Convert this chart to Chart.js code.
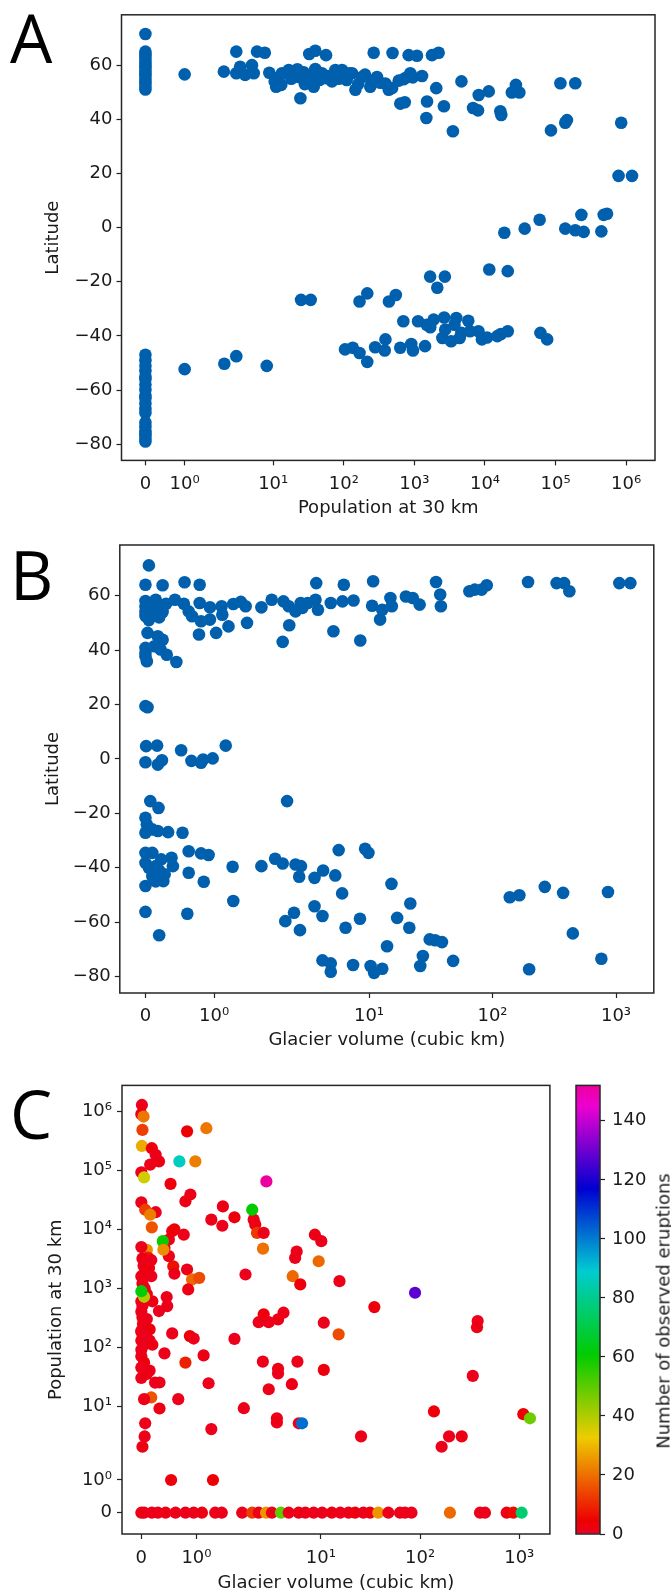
<!DOCTYPE html>
<html>
<head>
<meta charset="utf-8">
<script src="https://cdn.jsdelivr.net/npm/chart.js@4.4.1/dist/chart.umd.min.js"></script>
<style>
  html, body { margin: 0; padding: 0; background: #fff; }
  body { width: 671px; height: 1591px; position: relative; overflow: hidden; }
  canvas { position: absolute; }
  .panel { position: absolute; font-family: "Open Sans", sans-serif; font-size: 67px; line-height: 1; color: #000; }
  #cbTitle { position: absolute; left: 663px; top: 1311px; white-space: nowrap;
    font-family: "DejaVu Sans", sans-serif; font-size: 18px; color: #1a1a1a;
    transform: translate(-50%, -50%) rotate(-90deg); }
</style>
</head>
<body>
<canvas id="chartA" width="671" height="530" style="left:0;top:0"></canvas>
<canvas id="chartB" width="671" height="530" style="left:0;top:530px"></canvas>
<canvas id="chartC" width="560" height="545" style="left:0;top:1060px"></canvas>
<canvas id="chartBar" width="140" height="545" style="left:560px;top:1060px"></canvas>
<div class="panel" style="left:10px;top:4px">A</div>
<div class="panel" style="left:10px;top:541px">B</div>
<div class="panel" style="left:10px;top:1080px">C</div>
<div id="cbTitle">Number of observed eruptions</div>
<script>
// ---- data ----
// panel A: population within 30 km vs latitude
const popA = [
  0, 0, 0, 0, 0, 0, 0, 0, 0, 0, 0, 0, 0, 0, 0, 0,
  0, 0, 0, 0, 0, 0, 0, 0, 0, 0, 0, 0, 0, 0, 0, 0, 0, 0, 0, 0,
  1, 2, 3, 3, 3.4, 4, 5, 5.3, 5.9, 7.6, 8.8, 13, 13.3, 16.6, 19.6, 24.3, 32.4, 39.5, 56, 23,
  27, 31.8, 37.5, 39.5, 49, 54.8, 68, 76, 94.5, 131, 146, 181, 237, 265, 295, 388, 433, 490, 600, 631,
  830, 1088, 1775, 2205, 743, 875, 1282, 482, 730, 1510, 1476, 2040, 2620, 3510, 4640, 8150, 6770, 7970, 11300, 16500,
  17000, 27400, 24000, 30700, 117000, 190000, 86000, 137000, 145000, 850000, 780000, 1210000,
  18800, 36500, 59400, 137000, 190000, 250000, 232000, 445000, 480000, 535000,
  1, 2.03, 3, 8.1, 24.8, 34, 167, 215, 436, 546, 1670, 2700, 2110, 11500, 21000,
  104, 134, 167, 215, 278, 389, 380, 630, 903, 955, 1414,
  697, 1127, 1498, 1872, 1677, 2640, 2730, 2490, 3310, 3700, 3920, 4630, 4380, 5800, 6130, 8080, 9040, 10690, 14950, 21000, 16800, 61000, 76000,
  10.5, 11, 18, 22, 28, 33, 45, 60, 85, 110, 120, 160, 200, 250, 330, 12, 700, 950
];
const latA = [
  71.5, 65, 64, 63, 62, 61, 60, 59, 58, 57, 56, 55, 54, 53, 52, 51,
  -47, -49, -51, -53, -55, -56, -58, -60, -62, -63, -65, -67, -68.5, -72, -73.5, -75, -76, -77, -78, -79,
  56.6, 57.6, 65, 57, 59.4, 56.4, 60, 57, 65, 64.6, 57.2, 52.7, 57, 58.2, 56.3, 47.8, 64.1, 65.3, 63.7, 55.6,
  57.4, 53.8, 52, 58.6, 57, 55.2, 54, 58.2, 58.2, 57, 50.9, 55.6, 52, 64.6, 55.6, 53.2, 50.9, 64.5, 54.3, 45.8,
  63.7, 63.5, 63.7, 64.6, 55.2, 57, 56, 51.5, 46.3, 46.6, 40.5, 51.5, 44.8, 35.6, 54, 49, 44.2, 43.3, 50.3, 43,
  41.6, 52.7, 49.9, 49.9, 53.3, 53.3, 35.9, 38.7, 39.7, 38.7, 19.1, 19.1,
  -1.9, -0.4, 2.9, -0.4, -1, -1.6, 4.7, -1.4, 4.7, 5.1,
  -52.3, -50.3, -47.5, -51.1, -26.7, -26.7, -27.3, -24.3, -27.3, -24.9, -18.1, -18.1, -22.2, -15.5, -16.1,
  -45, -44.4, -46.3, -49.6, -44.2, -41.3, -45.4, -44.4, -43, -45.4, -43.8,
  -34.6, -34.6, -35.9, -34, -36.8, -33.2, -37.7, -40.8, -42, -35.9, -33.4, -38.9, -40.8, -34.4, -38.3, -38.3, -41.3, -40.6, -40.1, -38.3, -39.3, -38.9, -41.3,
  54, 52, 55, 58.5, 53, 56, 54.5, 56, 55, 54.5, 57, 53, 56.5, 54, 53.5, 55.5, 54.8, 55.5
];

// panel B: glacier volume vs latitude
const glacB = [
  0.05, 0, 0.25, 0.57, 0.79,
  0, 0, 0, 0, 0.05, 0.1, 0.1, 0.15, 0.2, 0.25, 0.3, 0.05, 0.2,
  0.43, 0.56, 0.63, 0.68, 0.79, 0.81, 0.94, 0.94, 0.78, 1.03, 1.11, 1.12, 1.21, 1.28, 1.39, 1.46, 1.48, 1.69, 1.84,
  2.03, 2.24, 2.26, 2.54, 2.89, 3.19, 3.74, 3.86, 3.69, 2.8, 2.0,
  4.9, 5.15, 6.25, 6.1, 7.5, 8.5,
  10.8, 10.6, 12.3, 12.8, 14.9, 15.3, 19.9, 22.6, 25.7,
  34.9, 37.7, 38.2, 65, 71.8, 81.6, 89.8, 194, 330, 380, 419, 1063, 1307,
  0.03, 0, 0, 0.02, 0.18, 0.25, 0.13, 0.22, 0.31, 0.45, 0,
  0, 0.03,
  0, 0.01, 0.17, 0.18, 0.24, 0.52, 0.67, 0.81, 0.84, 0.98, 1.17,
  0.07, 0.19, 2.17, 0, 0.02, 0, 0.18, 0.33, 0.54, 0.1,
  0, 0.1, 0, 0.15, 0.23, 0.38, 0.4, 0.28, 0.26, 0, 0.1, 0.63, 0.63, 0.81, 0.92, 0.85, 0.05, 0.15, 0.2,
  1.27, 1.69, 1.89, 2.0, 2.54, 2.81, 2.72, 3.62, 4.25, 5.33, 5.68, 6.06, 9.3, 9.9, 15.2, 1.28,
  0, 0.61, 0.2,
  2.1, 2.47, 2.76, 3.62, 4.2, 6.46, 8.45, 21.6, 16.9, 21.2, 14, 31, 34.3, 39, 27.3, 26, 48,
  4.2, 4.9, 4.9, 7.43, 10.3, 12.8, 11,
  138, 165, 265, 373, 861, 447, 198, 761
];
const latB = [
  71.1, 64, 63.8, 64.9, 64,
  58, 56, 54, 52.5, 57, 55, 53, 58.5, 56, 54, 57, 51, 52,
  58.5, 57, 54.2, 52.4, 57.3, 50.6, 55.7, 51.2, 45.7, 46.3, 56.1, 53, 48.7, 56.9, 57.7, 56.1, 50, 55.7, 58.5,
  57.9, 56.1, 49.1, 54.2, 55.5, 57.3, 64.6, 54.8, 58.5, 57.3, 43,
  57.3, 46.9, 64, 57.9, 58.2, 43.5,
  65.3, 56.3, 51.2, 54.8, 59.1, 56.1, 59.7, 59.1, 56.7,
  65, 60.4, 56.1, 61.6, 62.2, 62.2, 63.8, 65, 64.6, 64.6, 61.6, 64.6, 64.6,
  46.3, 40.8, 39, 35.9, 45.1, 43.8, 41.4, 40.2, 38.3, 35.6, 37.7,
  19.4, 19,
  -1.2, 4.7, 4.9, -2.1, -0.5, 3.2, -0.7, -1.4, -0.2, 0.2, 4.9,
  -15.5, -18, -15.5, -21.6, -24.1, -27.1, -26.5, -26.9, -27.1, -25.9,
  -34.5, -34.5, -38.2, -39.4, -36.9, -36.3, -39.4, -42.4, -44.9, -46.7, -43.1, -33.9, -41.8, -34.7, -35.3, -45.1, -40, -45, -41,
  -39.6, -39.4, -36.7, -38.4, -38.8, -39.4, -43.3, -43.7, -41, -42.8, -33.5, -49.4, -33, -34.5, -45.9, -52.2,
  -56.2, -56.9, -64.8,
  -59.6, -56.5, -62.9, -54.1, -57.7, -62, -58.7, -53.1, -58.4, -62, -68.8, -66.3, -66.6, -67.3, -72.4, -76.1, -74.2,
  -74, -75.1, -78.2, -75.7, -76.1, -77.1, -78.6,
  -50.8, -50.1, -47, -49.2, -48.9, -64.1, -77.3, -73.4
];

// panel C: glacier volume vs population, coloured by number of eruptions
const glacC = [
  0.01, 0, 0.04, 0.02, 0.83, 1.18, 0.01, 0.19, 0.26, 0.32, 0.16, 0, 0.05, 0.69, 0.98, 0.53, 2.82, 0.89, 0.8, 0,
  0.07, 0.26, 0.16, 0.19, 1.48, 1.27, 1.47, 1.69, 2.1, 2.18, 2.03, 2.27, 2.65, 2.61, 0.56, 0.6, 0.77, 0.5, 0.42, 0.5,
  0.39, 0.4, 0.1, 0.12, 0, 0.02, 0.04, 0.08, 0.14, 0.18, 0.18, 0, 0.02, 0.58, 0.83, 0.6, 0.92, 1.05, 0.85, 1.89,
  5.2, 6.2, 5.5, 5.7, 8.7, 10.1, 9.5, 15.4, 10.7, 2.65, 4.2, 2.36, 2.98, 3.7, 0, 0.02, 0, 0.32, 0.47, 0.46,
  0, 0.03, 0, 0.05, 0.1, 0.15, 0.02, 0.1, 0.2, 0.06, 0, 0.05, 0.15, 0.2, 0, 0, 0.05, 0, 0.15, 0,
  0.1, 0.25, 0.56, 0.88, 0.95, 0.42, 0.8, 1.13, 1.22, 1.69, 0.33, 0.18, 0.05, 0.33, 0.67, 0.07, 0.06, 0.02, 1.27, 0.54,
  1.3, 1.86, 2.6, 3.7, 3.7, 2.98, 5.1, 5.8, 10.7, 3.6, 3.6, 5.99, 6.46, 15.1, 89, 34.6, 381, 375, 340, 138,
  1099, 1283, 25.4, 196, 263, 165, 0.05, 0,
  0, 0.05, 0.19, 0.3, 0.44, 0.62, 0.8, 0.95, 1.1, 1.34, 1.46, 1.83, 2.03, 2.36, 2.8, 3.21, 3.96, 4.74, 5.97, 6.97,
  8.45, 10.3, 12.9, 15.7, 19, 22.1, 26.8, 31.3, 37.9, 47.9, 62.7, 70.4, 82, 200, 402, 451, 747, 871, 1057
];
const popC = [
  1290000, 900000, 820000, 487000, 460000, 520000, 260000, 238000, 184000, 142000, 125000, 93000, 76000, 142000, 142000, 59000, 65000, 39000, 29900, 28700,
  21500, 19500, 17700, 10800, 24500, 14600, 11500, 16000, 14600, 12000, 21500, 8700, 8700, 4700, 9300, 10000, 8100, 6700, 4800, 3500,
  6300, 4500, 4500, 3300, 5000, 3200, 2400, 2700, 2200, 3000, 1600, 1600, 1200, 2360, 2080, 1760, 1410, 1500, 953, 1710,
  1600, 1160, 3270, 4200, 8100, 6300, 2870, 1320, 260, 360, 384, 265, 265, 296, 602, 323, 190, 410, 497, 710,
  400, 250, 130, 110, 300, 200, 500, 800, 600, 1000, 180, 150, 130, 110, 90, 70, 55, 45, 40, 30,
  35, 25, 171, 154, 140, 78.5, 54.7, 72.5, 24.4, 138, 25.1, 14, 13.1, 9.1, 13.1, 5.1, 3.05, 2.04, 4.07, 1,
  1, 9.2, 56.9, 42.9, 35.9, 19.3, 23.5, 56.9, 41.1, 5.27, 6.2, 5.1, 5.1, 165, 838, 478, 277, 218, 32.5, 8.1,
  7.3, 6.2, 3.06, 3.06, 3.06, 2.04, 716, 890,
  0, 0, 0, 0, 0, 0, 0, 0, 0, 0, 0, 0, 0, 0, 0, 0, 0, 0, 0, 0,
  0, 0, 0, 0, 0, 0, 0, 0, 0, 0, 0, 0, 0, 0, 0, 0, 0, 0, 0
];
const erupC = [
  1, 2, 21, 13, 4, 21, 28, 3, 1, 2, 1, 1, 36, 87, 22, 3, 152, 1, 2, 1,
  13, 1, 22, 16, 2, 1, 1, 3, 1, 2, 61, 12, 1, 20, 1, 4, 1, 2, 1, 1,
  60, 24, 24, 8, 1, 2, 1, 1, 3, 1, 1, 2, 1, 7, 1, 1, 19, 15, 2, 1,
  19, 3, 1, 1, 2, 1, 19, 1, 1, 3, 1, 1, 1, 2, 1, 1, 2, 1, 1, 1,
  1, 2, 1, 1, 1, 3, 1, 1, 2, 1, 1, 1, 1, 2, 1, 1, 3, 1, 1, 1,
  2, 1, 1, 4, 1, 1, 9, 2, 1, 1, 1, 16, 1, 2, 1, 1, 1, 2, 1, 3,
  4, 1, 1, 2, 1, 1, 2, 1, 3, 1, 2, 1, 102, 15, 128, 3, 1, 2, 1, 3,
  4, 48, 1, 1, 2, 1, 40, 62,
  1, 2, 1, 1, 2, 1, 1, 1, 2, 1, 1, 1, 13, 1, 25, 1, 50, 1, 2, 1,
  1, 1, 2, 1, 1, 3, 1, 2, 25, 1, 1, 1, 1, 19, 1, 1, 2, 6, 76
];

const latTicks = [-80, -60, -40, -20, 0, 20, 40, 60];
const popTicks = [0, 1, 10, 100, 1000, 10000, 100000, 1000000];
const glacTicks = [0, 1, 10, 100, 1000];
const erupTicks = [0, 20, 40, 60, 80, 100, 120, 140];

// ---- symlog scale (linthresh 2, linscale 1, base 10) ----
const LINTHRESH = 2;
const LINSCALE = 1 / (1 - 1 / 10);
function symlog(v) {
  const a = Math.abs(v);
  const t = a <= LINTHRESH ? a / LINTHRESH * LINSCALE : LINSCALE + Math.log10(a / LINTHRESH);
  return v < 0 ? -t : t;
}
function symexp(t) {
  const a = Math.abs(t);
  const v = a <= LINSCALE ? a / LINSCALE * LINTHRESH : LINTHRESH * Math.pow(10, a - LINSCALE);
  return t < 0 ? -v : v;
}

class SymlogScale extends Chart.Scale {
  determineDataLimits() {
    const {min, max} = this.getMinMax(true);
    this.min = this.options.min ?? min;
    this.max = this.options.max ?? max;
  }
  buildTicks() {
    return [];
  }
  configure() {
    super.configure();
    this._t0 = symlog(this.min);
    this._t1 = symlog(this.max);
  }
  getPixelForValue(value) {
    if (value === null || value === undefined || isNaN(value)) return NaN;
    return this.getPixelForDecimal((symlog(value) - this._t0) / (this._t1 - this._t0));
  }
  getValueForPixel(pixel) {
    return symexp(this._t0 + this.getDecimalForPixel(pixel) * (this._t1 - this._t0));
  }
  getLabelForValue(value) {
    return String(value);
  }
}
SymlogScale.id = 'symlog';
SymlogScale.defaults = {};
Chart.register(SymlogScale);

// ---- colours ----
const BLUE = '#0060ad';
const SHADE = [0.93, 0.8, 0.82];   // the reference rainbow is a bit muted
const RAINBOW = [
  [0, [1, 0, 0.16]], [0.03, [1, 0, 0]], [0.215, [1, 1, 0]], [0.4, [0, 1, 0]],
  [0.586, [0, 1, 1]], [0.77, [0, 0, 1]], [0.954, [1, 0, 1]], [1, [1, 0, 0.75]]
];
function rgb(c) {
  return 'rgb(' + c.map((v, k) => Math.round(v * 255 * SHADE[k])).join(',') + ')';
}
function rainbow(t) {
  t = Math.min(1, Math.max(0, t));
  for (let i = 1; i < RAINBOW.length; i++) {
    const [t1, c1] = RAINBOW[i];
    if (t <= t1) {
      const [t0, c0] = RAINBOW[i - 1];
      const f = (t - t0) / (t1 - t0);
      return rgb(c0.map((v, k) => v + (c1[k] - v) * f));
    }
  }
}
const erupMax = Math.max(...erupC);

// ---- shared bits ----
const FONT = {family: 'DejaVu Sans', size: 18};
const INK = '#1a1a1a';
const SUP = '⁰¹²³⁴⁵⁶⁷⁸⁹';
const powLabel = v => v === 0 ? '0' : '10' + SUP[Math.round(Math.log10(v))];
const numLabel = v => v < 0 ? '\u2212' + Math.abs(v) : String(v);
const tickGrid = {display: true, drawOnChartArea: false, drawTicks: true, tickLength: 5, tickWidth: 1.2, tickColor: '#222'};

const framePlugin = {
  id: 'frame',
  afterDraw(chart) {
    const {ctx, chartArea: a} = chart;
    ctx.save();
    ctx.strokeStyle = '#262626';
    ctx.lineWidth = 1.5;
    ctx.strokeRect(a.left, a.top, a.right - a.left, a.bottom - a.top);
    ctx.restore();
  }
};

function axis(opts) {
  return {
    type: opts.type,
    position: opts.position,
    min: opts.min,
    max: opts.max,
    border: {display: false},
    grid: tickGrid,
    afterBuildTicks: s => { s.ticks = opts.ticks.map(v => ({value: v})); },
    ticks: {font: FONT, color: INK, padding: opts.pad, autoSkip: false, maxRotation: 0, callback: opts.fmt},
    title: opts.title ? {display: true, text: opts.title, font: FONT, color: INK, padding: opts.titlePad} : {display: false},
    afterFit: s => {
      if (opts.width !== undefined) s.width = opts.width;
      if (opts.height !== undefined) s.height = opts.height;
    }
  };
}

function baseOptions(padding, scales) {
  return {
    responsive: false,
    animation: false,
    events: [],
    layout: {padding},
    plugins: {legend: {display: false}, tooltip: {enabled: false}},
    scales
  };
}

function points(xs, ys) {
  return xs.map((x, i) => ({x, y: ys[i]}));
}

// ---- A ----
new Chart(document.getElementById('chartA'), {
  type: 'scatter',
  data: {datasets: [{data: points(popA, latA), backgroundColor: BLUE, pointRadius: 6.3, pointHoverRadius: 6.3, borderWidth: 0}]},
  options: baseOptions({top: 11.4, right: 16, left: 0, bottom: 0}, {
    x: axis({type: 'symlog', position: 'bottom', min: -0.61, max: 2.56e6, ticks: popTicks, fmt: powLabel, pad: 8,
      title: 'Population at 30 km', titlePad: {bottom: 11}, height: 69.6}),
    y: axis({type: 'linear', position: 'left', min: -86, max: 78.6, ticks: latTicks, fmt: numLabel, pad: 4,
      title: 'Latitude', titlePad: {top: 43}, width: 121.5})
  }),
  plugins: [framePlugin]
});

// ---- B ----
new Chart(document.getElementById('chartB'), {
  type: 'scatter',
  data: {datasets: [{data: points(glacB, latB), backgroundColor: BLUE, pointRadius: 6.3, pointHoverRadius: 6.3, borderWidth: 0}]},
  options: baseOptions({top: 15, right: 17.2, left: 0, bottom: 0}, {
    x: axis({type: 'symlog', position: 'bottom', min: -0.374, max: 2023, ticks: glacTicks, fmt: powLabel, pad: 8,
      title: 'Glacier volume (cubic km)', titlePad: {bottom: 9}, height: 67}),
    y: axis({type: 'linear', position: 'left', min: -86, max: 78.6, ticks: latTicks, fmt: numLabel, pad: 4,
      title: 'Latitude', titlePad: {top: 43}, width: 119.8})
  }),
  plugins: [framePlugin]
});

// ---- C ----
new Chart(document.getElementById('chartC'), {
  type: 'scatter',
  data: {datasets: [{data: points(glacC, popC), backgroundColor: erupC.map(e => rainbow(e / erupMax)),
    pointRadius: 6.1, pointHoverRadius: 6.1, borderWidth: 0}]},
  options: baseOptions({top: 25.4, right: 10.1, left: 0, bottom: 0}, {
    x: axis({type: 'symlog', position: 'bottom', min: -0.351, max: 2037, ticks: glacTicks, fmt: powLabel, pad: 9,
      title: 'Glacier volume (cubic km)', titlePad: {bottom: 11}, height: 71}),
    y: axis({type: 'symlog', position: 'left', min: -0.65, max: 2.77e6, ticks: popTicks, fmt: powLabel, pad: 5,
      title: 'Population at 30 km', titlePad: {top: 46}, width: 122})
  }),
  plugins: [framePlugin]
});

// ---- colour bar ----
function barGradient(chart) {
  const y = chart.scales.y;
  if (!chart.chartArea || !y) return rgb(RAINBOW[0][1]);
  const g = chart.ctx.createLinearGradient(0, y.getPixelForValue(0), 0, y.getPixelForValue(erupMax));
  RAINBOW.forEach(([t, c]) => g.addColorStop(t, rgb(c)));
  return g;
}
new Chart(document.getElementById('chartBar'), {
  type: 'bar',
  data: {labels: [''], datasets: [{data: [[0, erupMax]], backgroundColor: ctx => barGradient(ctx.chart),
    barPercentage: 1, categoryPercentage: 1, borderWidth: 0}]},
  options: baseOptions({top: 25.4, right: 0, left: 16, bottom: 71}, {
    x: {display: false},
    y: axis({type: 'linear', position: 'right', min: 0, max: erupMax, ticks: erupTicks, fmt: numLabel, pad: 7, width: 100})
  }),
  plugins: [framePlugin]
});
</script>
</body>
</html>
